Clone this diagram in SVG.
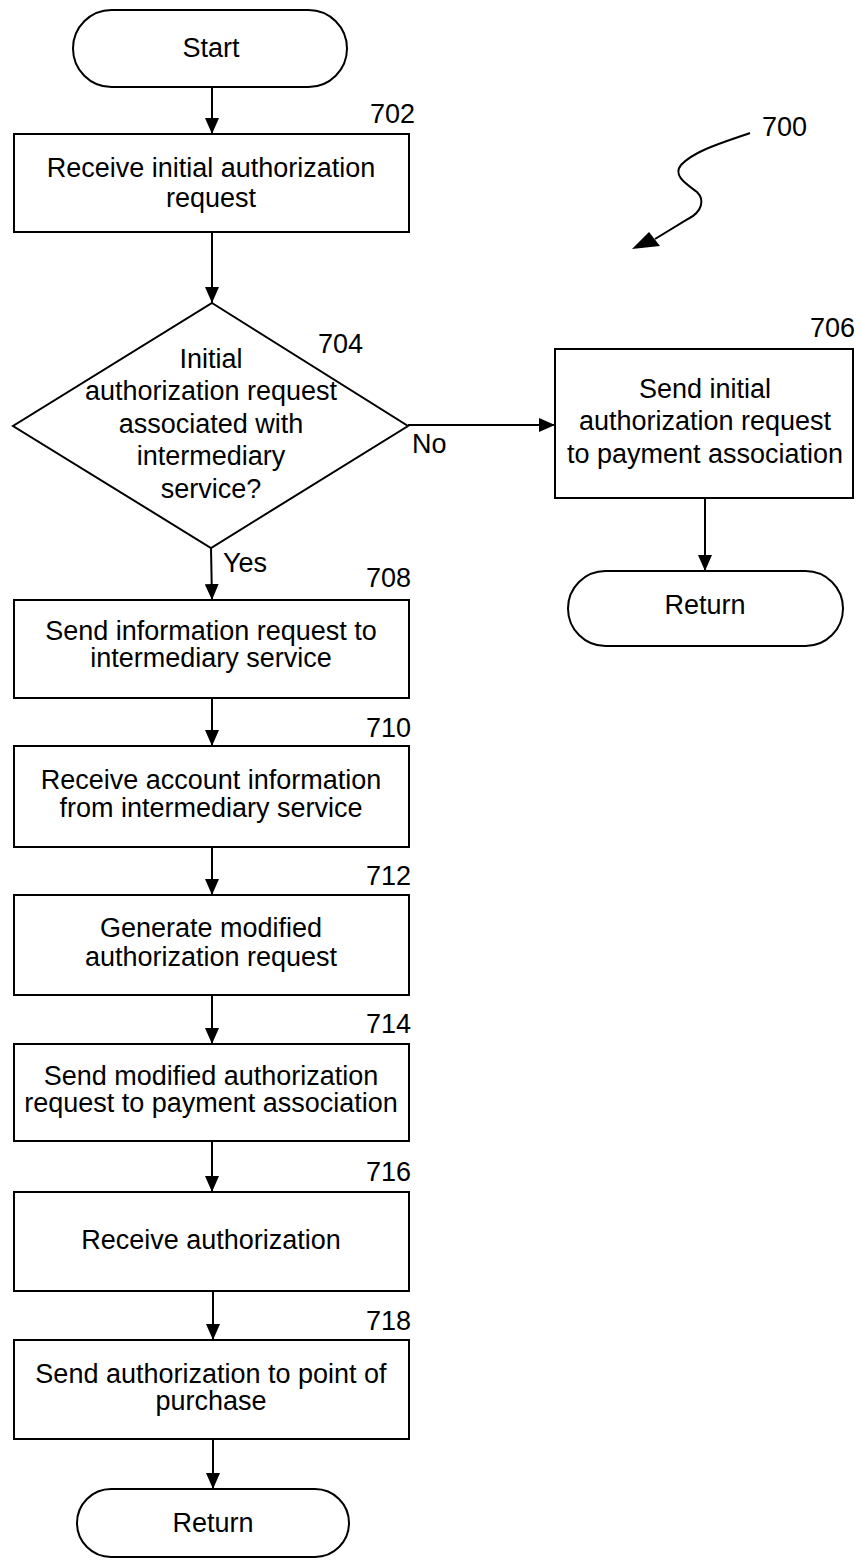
<svg xmlns="http://www.w3.org/2000/svg" width="861" height="1560" viewBox="0 0 861 1560">
<style>
.box{fill:#fff;stroke:#000;stroke-width:2}
.ln{fill:none;stroke:#000;stroke-width:2}
text{font-family:"Liberation Sans",Arial,sans-serif;font-size:27px;fill:#000}
.c{text-anchor:middle}
.e{text-anchor:end}
</style>
<defs>
<marker id="ah" markerUnits="userSpaceOnUse" markerWidth="16" markerHeight="14" refX="16" refY="7" orient="auto">
<path d="M0,0 L16,7 L0,14 z" fill="#000"/>
</marker>
</defs>
<rect width="861" height="1560" fill="#fff"/>
<g id="connectors">
<line class="ln" x1="212" y1="87" x2="212" y2="134" marker-end="url(#ah)"/>
<line class="ln" x1="212" y1="232" x2="212" y2="303" marker-end="url(#ah)"/>
<line class="ln" x1="408" y1="425" x2="555" y2="425" marker-end="url(#ah)"/>
<line class="ln" x1="705" y1="498" x2="705" y2="571" marker-end="url(#ah)"/>
<line class="ln" x1="211" y1="548" x2="212" y2="600" marker-end="url(#ah)"/>
<line class="ln" x1="212" y1="698" x2="212" y2="746" marker-end="url(#ah)"/>
<line class="ln" x1="212" y1="847" x2="212" y2="895" marker-end="url(#ah)"/>
<line class="ln" x1="212" y1="995" x2="212" y2="1044" marker-end="url(#ah)"/>
<line class="ln" x1="212" y1="1141" x2="212" y2="1192" marker-end="url(#ah)"/>
<line class="ln" x1="213" y1="1291" x2="213" y2="1340" marker-end="url(#ah)"/>
<line class="ln" x1="213" y1="1439" x2="213" y2="1489" marker-end="url(#ah)"/>
<text x="412" y="453">No</text>
<text x="223" y="572">Yes</text>
</g>
<g id="ref700">
<path class="ln" d="M750,133 C725,142 695,150 681,165 C672,176 688,185 697,192 C705,200 702,212 688,219 L655,239"/>
<polygon points="632,249 649,232 660,246" fill="#000"/>
<text x="762" y="136">700</text>
</g>
<g id="start">
<rect class="box" x="73" y="10" width="274" height="77" rx="38.5"/>
<text class="c" x="211" y="57">Start</text>
</g>
<g id="n702">
<rect class="box" x="14" y="134" width="395" height="98"/>
<text class="c" x="211" y="177">Receive initial authorization</text>
<text class="c" x="211" y="207">request</text>
<text class="e" x="415" y="123">702</text>
</g>
<g id="n704">
<polygon class="box" points="212,303 408,426 211,548 13,426"/>
<text class="c" x="211" y="368">Initial</text>
<text class="c" x="211" y="400">authorization request</text>
<text class="c" x="211" y="433">associated with</text>
<text class="c" x="211" y="465">intermediary</text>
<text class="c" x="211" y="498">service?</text>
<text x="318" y="353">704</text>
</g>
<g id="n706">
<rect class="box" x="555" y="349" width="298" height="149"/>
<text class="c" x="705" y="398">Send initial</text>
<text class="c" x="705" y="430">authorization request</text>
<text class="c" x="705" y="463">to payment association</text>
<text class="e" x="855" y="337">706</text>
</g>
<g id="return1">
<rect class="box" x="568" y="571" width="275" height="75" rx="37.5"/>
<text class="c" x="705" y="614">Return</text>
</g>
<g id="n708">
<rect class="box" x="14" y="600" width="395" height="98"/>
<text class="c" x="211" y="640">Send information request to</text>
<text class="c" x="211" y="667">intermediary service</text>
<text class="e" x="411" y="587">708</text>
</g>
<g id="n710">
<rect class="box" x="14" y="746" width="395" height="101"/>
<text class="c" x="211" y="789">Receive account information</text>
<text class="c" x="211" y="817">from intermediary service</text>
<text class="e" x="411" y="737">710</text>
</g>
<g id="n712">
<rect class="box" x="14" y="895" width="395" height="100"/>
<text class="c" x="211" y="937">Generate modified</text>
<text class="c" x="211" y="966">authorization request</text>
<text class="e" x="411" y="885">712</text>
</g>
<g id="n714">
<rect class="box" x="14" y="1044" width="395" height="97"/>
<text class="c" x="211" y="1085">Send modified authorization</text>
<text class="c" x="211" y="1112">request to payment association</text>
<text class="e" x="411" y="1033">714</text>
</g>
<g id="n716">
<rect class="box" x="14" y="1192" width="395" height="99"/>
<text class="c" x="211" y="1249">Receive authorization</text>
<text class="e" x="411" y="1181">716</text>
</g>
<g id="n718">
<rect class="box" x="14" y="1340" width="395" height="99"/>
<text class="c" x="211" y="1383">Send authorization to point of</text>
<text class="c" x="211" y="1410">purchase</text>
<text class="e" x="411" y="1330">718</text>
</g>
<g id="return2">
<rect class="box" x="77" y="1489" width="272" height="68" rx="34"/>
<text class="c" x="213" y="1532">Return</text>
</g>
</svg>
